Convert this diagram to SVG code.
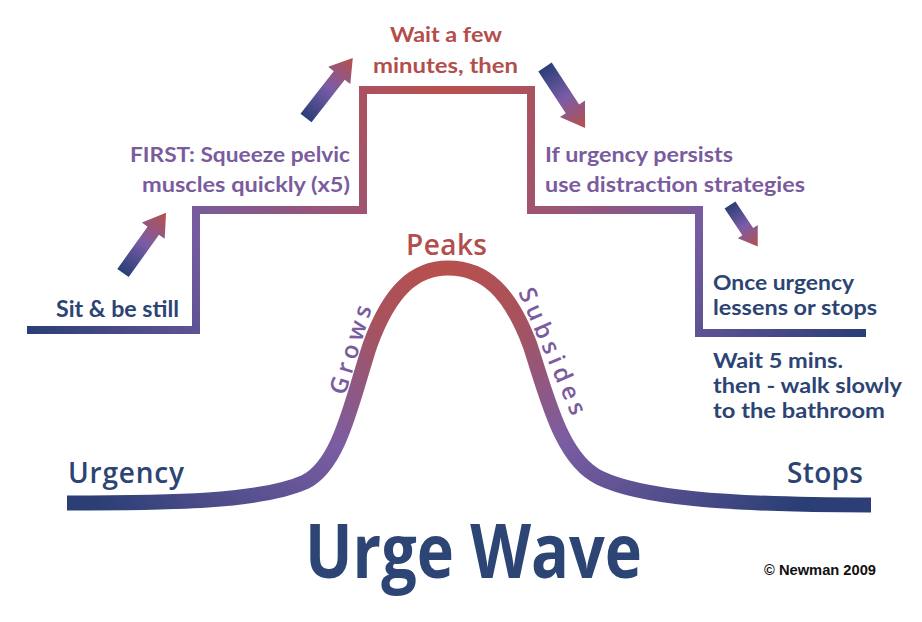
<svg xmlns="http://www.w3.org/2000/svg" width="922" height="622" viewBox="0 0 922 622">
  <defs>
    <radialGradient id="stairGrad" gradientUnits="userSpaceOnUse" cx="447" cy="90" r="480">
      <stop offset="0" stop-color="#b9504c"/>
      <stop offset="0.3" stop-color="#a0546f"/>
      <stop offset="0.6" stop-color="#765ba0"/>
      <stop offset="1" stop-color="#2b3f76"/>
    </radialGradient>
    <radialGradient id="curveGrad" gradientUnits="userSpaceOnUse" cx="447" cy="268" r="420">
      <stop offset="0" stop-color="#b8504c"/>
      <stop offset="0.2" stop-color="#a9525c"/>
      <stop offset="0.5" stop-color="#7a5da2"/>
      <stop offset="1" stop-color="#2b3f76"/>
    </radialGradient>
    <linearGradient id="arrowGrad" x1="0" y1="0" x2="1" y2="0">
      <stop offset="0" stop-color="#2a3f78"/>
      <stop offset="0.5" stop-color="#7a5ca6"/>
      <stop offset="1" stop-color="#b8504a"/>
    </linearGradient>
  </defs>
  <style>
    .t { font-family: Lato, "Open Sans", "DejaVu Sans", sans-serif; font-weight: 700; }
    .blue { fill: #2c4474; }
    .purple { fill: #7a5c9e; }
    .red { fill: #b24e4c; }
    .spaced { font-family: "Open Sans", Lato, "DejaVu Sans", sans-serif; font-weight: 600; }
    .arrow { fill: url(#arrowGrad); }
  </style>
  <rect width="922" height="622" fill="#ffffff"/>

  <g id="stairs">
    <path d="M27,330 H196 V210 H363 V90 H531 V210 H699 V333 H866" fill="none" stroke="url(#stairGrad)" stroke-width="8" stroke-linejoin="miter"/>
  </g>

  <g id="wave">
    <path d="M67,503 C170,503 260,502 305,482 C340,465 352,400 370,345 C390,290 415,268 448,268 C485,268 510,292 530,345 C548,400 562,460 600,478 C640,497 720,505 871,505" fill="none" stroke="url(#curveGrad)" stroke-width="15"/>
  </g>

  <g id="connectors">
    <path class="arrow" d="M0,-7 L52,-7 L52,-14 L74,0 L52,14 L52,7 L0,7 Z" transform="translate(123,273) rotate(-54.4)"/>
    <path class="arrow" d="M0,-7 L54,-7 L54,-14 L76,0 L54,14 L54,7 L0,7 Z" transform="translate(306,118) rotate(-52)"/>
    <path class="arrow" d="M0,-8 L50,-8 L50,-15 L73,0 L50,15 L50,8 L0,8 Z" transform="translate(545,67) rotate(56.7)"/>
    <path class="arrow" d="M0,-6.5 L32,-6.5 L32,-12 L50,0 L32,12 L32,6.5 L0,6.5 Z" transform="translate(730,205) rotate(56.3)"/>
  </g>

  <g id="node-sit">
    <text class="t blue" x="56" y="317" font-size="22" textLength="123" lengthAdjust="spacingAndGlyphs">Sit &amp; be still</text>
  </g>
  <g id="node-first">
    <text class="t purple" x="130" y="162" font-size="21" textLength="220" lengthAdjust="spacingAndGlyphs">FIRST: Squeeze pelvic</text>
    <text class="t purple" x="142" y="192" font-size="21" textLength="208" lengthAdjust="spacingAndGlyphs">muscles quickly (x5)</text>
  </g>
  <g id="node-wait">
    <text class="t red" x="390" y="42" font-size="21" textLength="112" lengthAdjust="spacingAndGlyphs">Wait a few</text>
    <text class="t red" x="373" y="73" font-size="21" textLength="145" lengthAdjust="spacingAndGlyphs">minutes, then</text>
  </g>
  <g id="node-persists">
    <text class="t purple" x="545" y="162" font-size="21" textLength="188" lengthAdjust="spacingAndGlyphs">If urgency persists</text>
    <text class="t purple" x="545" y="192" font-size="21" textLength="260" lengthAdjust="spacingAndGlyphs">use distraction strategies</text>
  </g>
  <g id="node-lessens">
    <text class="t blue" x="713" y="290" font-size="21" textLength="141" lengthAdjust="spacingAndGlyphs">Once urgency</text>
    <text class="t blue" x="713" y="315" font-size="21" textLength="164" lengthAdjust="spacingAndGlyphs">lessens or stops</text>
  </g>
  <g id="node-walk">
    <text class="t blue" x="713" y="368" font-size="21" textLength="130" lengthAdjust="spacingAndGlyphs">Wait 5 mins.</text>
    <text class="t blue" x="713" y="393" font-size="21" textLength="189" lengthAdjust="spacingAndGlyphs">then - walk slowly</text>
    <text class="t blue" x="713" y="418" font-size="21" textLength="172" lengthAdjust="spacingAndGlyphs">to the bathroom</text>
  </g>

  <g id="node-peaks">
    <text class="spaced red" x="406" y="255" font-size="28" textLength="81" lengthAdjust="spacing">Peaks</text>
  </g>
  <g id="node-grows">
    <text class="spaced purple" font-size="24" textLength="92" lengthAdjust="spacing" transform="translate(345,396) rotate(-73)">Grows</text>
  </g>
  <g id="node-subsides">
    <text class="spaced purple" font-size="24" textLength="136" lengthAdjust="spacing" transform="translate(518,292) rotate(66.6)">Subsides</text>
  </g>
  <g id="node-urgency">
    <text class="spaced blue" x="68" y="483" font-size="28" textLength="116" lengthAdjust="spacing">Urgency</text>
  </g>
  <g id="node-stops">
    <text class="spaced blue" x="787" y="483" font-size="28" textLength="76" lengthAdjust="spacing">Stops</text>
  </g>

  <g id="title">
    <text x="305" y="578" font-family="'Open Sans', Lato, sans-serif" font-weight="700" font-size="76" fill="#2c4575" textLength="337" lengthAdjust="spacingAndGlyphs">Urge Wave</text>
  </g>
  <g id="copyright">
    <text x="764" y="575" font-family="'Liberation Sans', Arial, sans-serif" font-weight="700" font-size="14" fill="#111111" textLength="112" lengthAdjust="spacingAndGlyphs">© Newman 2009</text>
  </g>
</svg>
